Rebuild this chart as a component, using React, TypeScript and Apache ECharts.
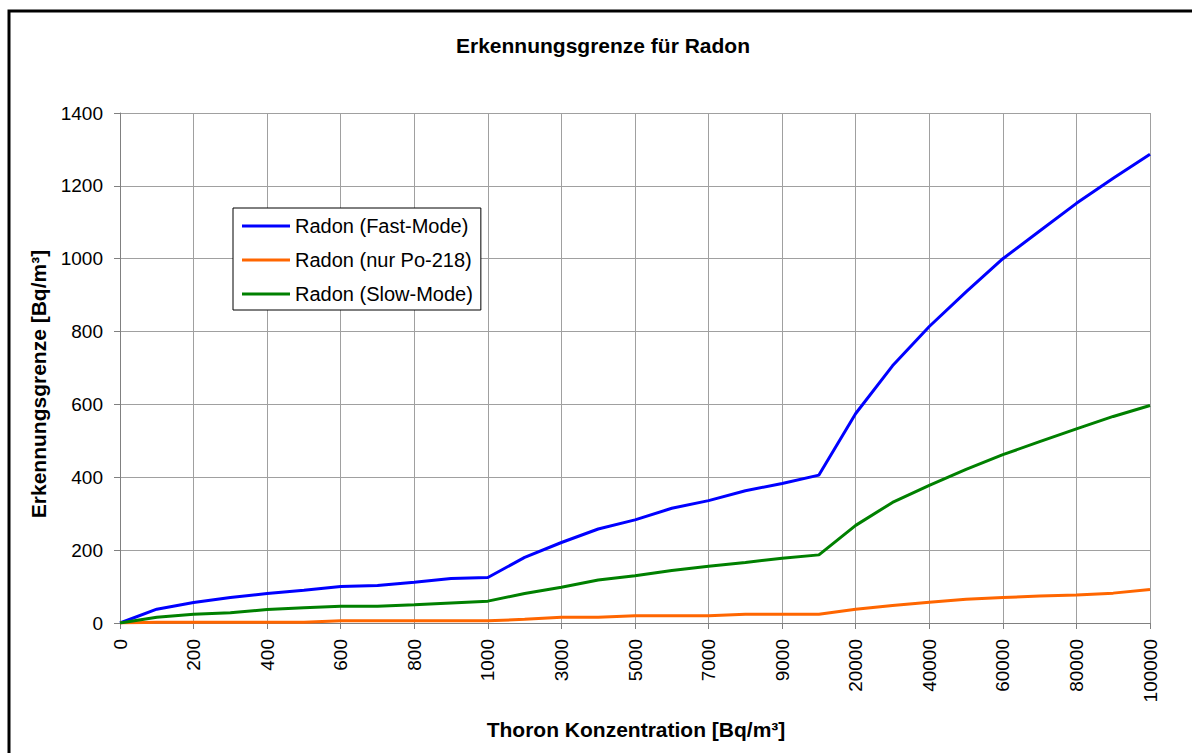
import React, { useEffect, useRef } from "react";
import * as echarts from "echarts";

const categories = [
  "0", "100", "200", "300", "400", "500", "600", "700", "800", "900", "1000",
  "2000", "3000", "4000", "5000", "6000", "7000", "8000", "9000", "10000",
  "20000", "30000", "40000", "50000", "60000", "70000", "80000", "90000", "100000",
];

const fastMode = [
  0, 38, 56, 70, 81, 90, 100, 103, 112, 122, 125,
  180, 221, 258, 283, 315, 336, 363, 383, 406,
  575, 706, 814, 909, 1000, 1076, 1152, 1221, 1287,
];

const nurPo218 = [
  0, 2, 2, 2, 2, 2, 6, 6, 6, 6, 6,
  10, 16, 16, 20, 20, 20, 24, 24, 24,
  38, 48, 57, 65, 70, 74, 77, 82, 92,
];

const slowMode = [
  0, 16, 24, 28, 37, 42, 46, 46, 50, 55, 60,
  81, 98, 118, 130, 144, 156, 166, 178, 187,
  268, 331, 378, 422, 462, 498, 533, 567, 597,
];

const seriesNames = ["Radon (Fast-Mode)", "Radon (nur Po-218)", "Radon (Slow-Mode)"];
const seriesColors = ["#0000FF", "#FF6600", "#008000"];

const titleText = "Erkennungsgrenze für Radon";
const xAxisName = "Thoron Konzentration [Bq/m³]";
const yAxisName = "Erkennungsgrenze [Bq/m³]";

const FONT = "'Liberation Sans', Arial, sans-serif";

export default function App() {
  const ref = useRef<HTMLDivElement>(null);

  useEffect(() => {
    if (!ref.current) return;
    const chart = echarts.init(ref.current, null, { renderer: "svg" });
    const data = [fastMode, nurPo218, slowMode];
    chart.setOption({
      animation: false,
      backgroundColor: "#ffffff",
      textStyle: { fontFamily: FONT },
      grid: { left: 120, top: 113, right: 42, bottom: 130 },
      legend: {
        orient: "vertical",
        left: 233,
        top: 208,
        padding: [8, 8, 6, 9],
        borderColor: "#000",
        borderWidth: 1,
        backgroundColor: "#fff",
        itemWidth: 48,
        itemHeight: 3,
        itemGap: 14,
        icon: "rect",
        textStyle: { fontFamily: FONT, fontSize: 20, color: "#000", lineHeight: 20 },
        data: seriesNames,
      },
      xAxis: {
        type: "category",
        data: categories,
        boundaryGap: false,
        axisLine: { lineStyle: { color: "#808080", width: 1 } },
        axisTick: { interval: 1, length: 6, lineStyle: { color: "#808080" } },
        axisLabel: {
          interval: 1,
          rotate: 90,
          margin: 16,
          fontSize: 19,
          fontFamily: FONT,
          color: "#000",
        },
        splitLine: { show: true, interval: 1, lineStyle: { color: "#a0a0a0", width: 1 } },
      },
      yAxis: {
        type: "value",
        min: 0,
        max: 1400,
        interval: 200,
        axisLine: { show: true, lineStyle: { color: "#808080", width: 1 } },
        axisTick: { show: true, length: 6, lineStyle: { color: "#808080" } },
        axisLabel: {
          margin: 17,
          fontSize: 19,
          fontFamily: FONT,
          color: "#000",
          formatter: (v: number) => String(v),
        },
        splitLine: { show: true, lineStyle: { color: "#a0a0a0", width: 1 } },
      },
      series: seriesNames.map((name, i) => ({
        name,
        type: "line",
        data: data[i],
        symbol: "none",
        color: seriesColors[i],
        lineStyle: { color: seriesColors[i], width: 3 },
      })),
      graphic: [
        {
          type: "rect",
          shape: { x: 9, y: 11, width: 1400, height: 1000 },
          style: { fill: "none", stroke: "#000", lineWidth: 3 },
          silent: true,
        },
        {
          type: "text",
          x: 603,
          y: 45,
          style: {
            text: titleText,
            fontFamily: FONT,
            fontSize: 21,
            fontWeight: "bold",
            fill: "#000",
            textAlign: "center",
            textVerticalAlign: "middle",
          },
        },
        {
          type: "text",
          x: 636,
          y: 729,
          style: {
            text: xAxisName,
            fontFamily: FONT,
            fontSize: 21,
            fontWeight: "bold",
            fill: "#000",
            textAlign: "center",
            textVerticalAlign: "middle",
          },
        },
        {
          type: "text",
          x: 38,
          y: 384,
          rotation: Math.PI / 2,
          style: {
            text: yAxisName,
            fontFamily: FONT,
            fontSize: 21,
            fontWeight: "bold",
            fill: "#000",
            textAlign: "center",
            textVerticalAlign: "middle",
          },
        },
      ],
    });
    return () => chart.dispose();
  }, []);

  return (
    <div
      ref={ref}
      style={{ position: "absolute", left: 0, top: 0, width: 1192, height: 753 }}
    />
  );
}
